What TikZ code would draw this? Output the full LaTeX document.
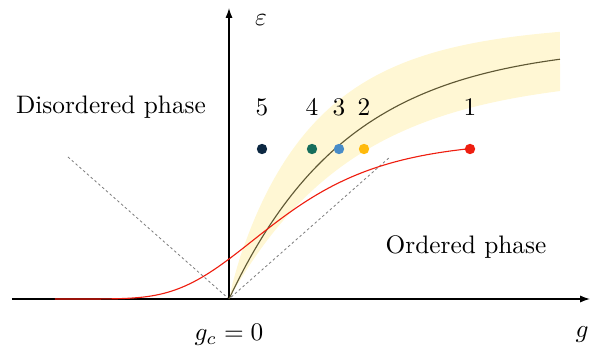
\documentclass[tikz,border=0pt]{standalone}
\usepackage{tikz}
\usetikzlibrary{arrows.meta, positioning}

\definecolor{bandyellow}{RGB}{255,247,212}
\definecolor{curveolive}{RGB}{95,88,52}
\definecolor{curvered}{RGB}{238,30,16}
\definecolor{dotnavy}{RGB}{12,40,66}
\definecolor{dotteal}{RGB}{22,110,92}
\definecolor{dotblue}{RGB}{72,140,200}
\definecolor{dotamber}{RGB}{255,186,12}

\begin{document}
\begin{tikzpicture}[
    txt/.style={scale=1.8, inner sep=1pt},
    axis/.style={line width=0.9pt, -{Latex[length=7pt, width=5pt]}},
    guide/.style={gray, line width=0.6pt, dash pattern=on 1.8pt off 1.8pt},
    curve/.style={line width=0.8pt},
    dot/.style={circle, inner sep=0pt, minimum size=0.26cm}
]
    \useasboundingbox (-5.725,-1.25) rectangle (9.15,7.475);

    \coordinate (origin) at (0,0);
    \coordinate (xstart) at (-5.425,0);
    \coordinate (xend) at (9.025,0);
    \coordinate (yend) at (0,7.275);
    \coordinate (guideL) at (-4.025,3.55);
    \coordinate (guideR) at (4.025,3.55);

    % uncertainty band
    \fill[bandyellow] plot[domain=0:8.275, samples=90] (\x, {6.9*(1-exp(-(\x/2.096)^0.9))})
        -- plot[domain=8.275:0, samples=90] (\x, {5.6*(1-exp(-\x/3.14))}) -- cycle;

    \draw[guide] (guideL) -- (origin) -- (guideR);

    \draw[axis] (xstart) -- (xend);
    \draw[axis] (origin) -- (yend);

    \draw[curve, curveolive] plot[domain=0:8.275, samples=80] (\x, {6.4*(1-exp(-\x/3))});
    \draw[curve, curvered] plot[domain=-4.35:6.025, samples=100] (\x, {3.96*exp(-1.376*exp(-\x/1.842))});

    \node[dot, fill=dotnavy] (dot5) at (0.825,3.75) {};
    \node[dot, fill=dotteal] (dot4) at (2.075,3.75) {};
    \node[dot, fill=dotblue] (dot3) at (2.75,3.75) {};
    \node[dot, fill=dotamber] (dot2) at (3.375,3.75) {};
    \node[dot, fill=curvered] (dot1) at (6.025,3.75) {};

    \node[txt] (lab5) at (0.825,4.8) {5};
    \node[txt] (lab4) at (2.075,4.8) {4};
    \node[txt] (lab3) at (2.75,4.8) {3};
    \node[txt] (lab2) at (3.375,4.8) {2};
    \node[txt] (lab1) at (6.025,4.8) {1};

    \node[txt] (eps) at (0.8,6.975) {$\varepsilon$};
    \node[txt] (gaxis) at (8.825,-0.89) {$g$};
    \node[txt] (gc) at (0,-0.9) {$g_c = 0$};
    \node[txt] (disordered) at (-2.95,4.8) {Disordered phase};
    \node[txt] (ordered) at (5.925,1.3) {Ordered phase};
\end{tikzpicture}
\end{document}
